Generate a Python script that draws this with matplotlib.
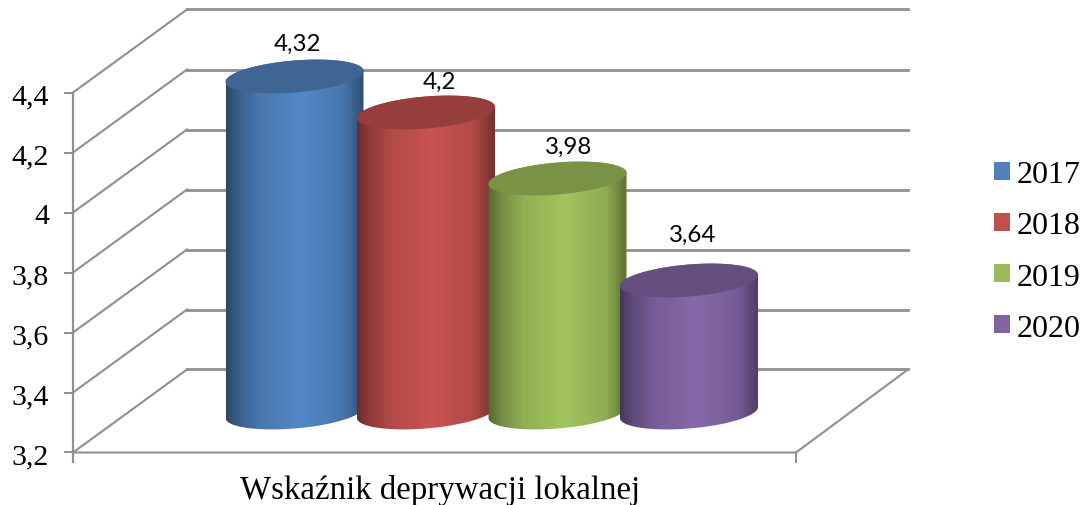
import numpy as np
import matplotlib
matplotlib.use("Agg")
import matplotlib.pyplot as plt
from matplotlib.colors import LinearSegmentedColormap, to_rgb
from matplotlib.patches import Patch, Polygon

plt.rcParams['font.family'] = ['Liberation Serif', 'DejaVu Serif']

# data
years = ['2017', '2018', '2019', '2020']
values = [4.32, 4.2, 3.98, 3.64]
value_labels = ['4,32', '4,2', '3,98', '3,64']
colors = ['#4F81BD', '#C0504D', '#9BBB59', '#8064A2']
y_ticks = [3.2, 3.4, 3.6, 3.8, 4.0, 4.2, 4.4]
y_tick_labels = ['3,2', '3,4', '3,6', '3,8', '4', '4,2', '4,4']
category = 'Wskaźnik deprywacji lokalnej'

# layout in pixels (the 3d look is faked with offsets)
W, H = 1086, 506
PX_PER_UNIT = 300.0
BAR_STEP = 131.5
BAR0_X = 294.5
BASE_Y = 413.5
FRONT = -40 / PX_PER_UNIT
BACK = 43 / PX_PER_UNIT
GRID = '#8f8f8f'

# hand placed labels in the original: pixels away from the top of the bar
label_dx = [2.5, 13, 11, 4]
label_dy = [33, 31, 32, 46]


def xd(px):
    return (px - BAR0_X) / BAR_STEP


def yd(py):
    return 3.2 + (BASE_Y - py) / PX_PER_UNIT


fig = plt.figure(figsize=(W / 100, H / 100), dpi=100)
ax = fig.add_axes([0, 0, 1, 1])
ax.axis('off')

# walls and floor
for t, lab in zip(y_ticks, y_tick_labels):
    ax.plot([xd(73), xd(187)], [t + FRONT, t + BACK], color=GRID, lw=1.5, zorder=1)
    ax.plot([xd(187), xd(908)], [t + BACK, t + BACK], color=GRID, lw=2.0, zorder=1)
    ax.plot([xd(65), xd(73)], [t + FRONT, t + FRONT], color=GRID, lw=1.4, zorder=1)
    ax.text(xd(49), t + FRONT - 4 / PX_PER_UNIT, lab, ha='right', va='center', fontsize=21.5, color='black')
base = y_ticks[0]
ax.plot([xd(73), xd(73)], [y_ticks[-1] + FRONT, yd(463)], color=GRID, lw=1.6, zorder=1)
ax.plot([xd(73), xd(796), xd(908)], [base + FRONT, base + FRONT, base + BACK], color=GRID, lw=1.5, zorder=1)
ax.plot([xd(796), xd(796)], [base + FRONT, yd(463)], color=GRID, lw=1.4, zorder=1)

# cylinders, left to right so each one covers the one before
a = 69.0 / BAR_STEP
b = 16.0 / PX_PER_UNIT
tilt = 5.5 / PX_PER_UNIT
stops = [(0.0, 0.55), (0.08, 0.72), (0.25, 0.93), (0.55, 1.05), (0.85, 0.92), (1.0, 0.6)]
t_up = np.linspace(0, np.pi, 80)
t_down = np.linspace(np.pi, 2 * np.pi, 80)
t_all = np.linspace(0, 2 * np.pi, 160)

for i, (v, c) in enumerate(zip(values, colors)):
    rgb = np.array(to_rgb(c))
    cmap = LinearSegmentedColormap.from_list('c%d' % i, [(s, tuple(np.clip(rgb * k, 0, 1))) for s, k in stops])

    up_x = i + a * np.cos(t_up)
    up_y = v + b * np.sin(t_up) + tilt * np.cos(t_up)
    lo_x = i + a * np.cos(t_down)
    lo_y = base + b * np.sin(t_down) + tilt * np.cos(t_down)
    body = Polygon(np.column_stack([np.r_[up_x, lo_x], np.r_[up_y, lo_y]]), closed=True, fc='none', ec='none',
                   transform=ax.transData)
    ax.add_patch(body)
    im = ax.imshow(np.linspace(0, 1, 256).reshape(1, -1), cmap=cmap, aspect='auto', zorder=2 + i,
                   extent=[i - a, i + a, base - 2 * b, v + 2 * b])
    im.set_clip_path(body)

    top_x = i + a * np.cos(t_all)
    top_y = v + b * np.sin(t_all) + tilt * np.cos(t_all)
    ax.add_patch(Polygon(np.column_stack([top_x, top_y]), closed=True, fc=rgb * 0.78, ec='none', zorder=2 + i))

    ax.text(i + label_dx[i] / BAR_STEP, v + label_dy[i] / PX_PER_UNIT, value_labels[i], ha='center', va='center',
            fontsize=17.4, family=['Lato', 'DejaVu Sans'], color='black', zorder=10)

ax.set_xlim(xd(0), xd(W))
ax.set_ylim(yd(H), yd(0))

ax.text(xd(440.5), yd(490.5), category, ha='center', va='center', fontsize=23.7, color='black')

handles = [Patch(fc=c, ec='none') for c in colors]
ax.legend(handles, years, loc='center left', bbox_to_anchor=(994 / W, 1 - 252.5 / H), frameon=False, fontsize=23,
          handlelength=0.5, handleheight=0.5, handletextpad=0.22, labelspacing=0.69, borderpad=0, borderaxespad=0)

fig.savefig('out.png', dpi=100)
